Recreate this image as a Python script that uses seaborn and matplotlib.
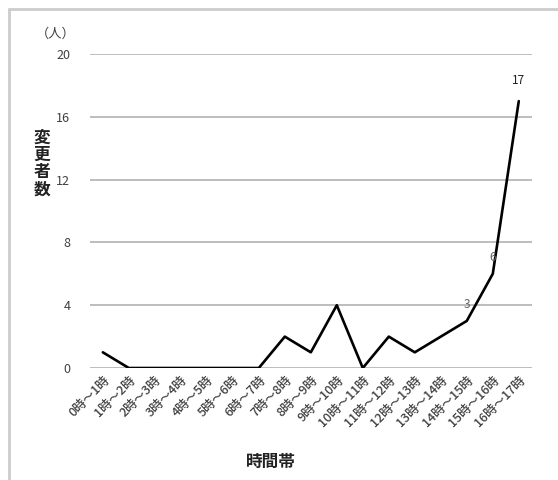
import numpy as np
import pandas as pd
import matplotlib.pyplot as plt
import seaborn as sns
from matplotlib.lines import Line2D

# Données
heures = [f"{h}時～{h + 1}時" for h in range(17)]
changements = [1, 0, 0, 0, 0, 0, 0, 2, 1, 4, 0, 2, 1, 2, 3, 6, 17]
etiquettes = {14: "3", 15: "6", 16: "17"}
yticks = [0, 4, 8, 12, 16, 20]

df = pd.DataFrame({"時間帯": heures, "変更者数": changements})

sns.set_style("white")
plt.rcParams['font.family'] = ['Noto Sans CJK JP', 'DejaVu Sans']

fig = plt.figure(figsize=(5.58, 4.8), dpi=100)
ax = fig.add_axes([0.161, 0.2333, 0.792, 0.6542])

sns.lineplot(data=df, x="時間帯", y="変更者数", sort=False, color="black",
             linewidth=1.9, ax=ax)

ax.set_xlim(-0.5, 16.5)
ax.set_ylim(0, 20)
ax.set_yticks(yticks)
ax.yaxis.grid(True, color="#bdbdbd", linewidth=1.4)
ax.set_axisbelow(True)
for s in ax.spines.values():
    s.set_visible(False)
ax.tick_params(axis="y", length=0, labelsize=9, labelcolor="#404040", pad=14)
ax.tick_params(axis="x", length=0, labelsize=9, labelcolor="#404040", pad=4)
ax.set_xticks(range(len(heures)))
ax.set_xticklabels(heures, rotation=45, ha="right", rotation_mode="anchor",
                   fontweight="medium")
ax.set_xlabel("")
ax.set_ylabel("")

# Étiquettes des valeurs
for i, t in etiquettes.items():
    if i == 16:
        ax.annotate(t, (i, changements[i]), xytext=(0, 10), textcoords="offset points",
                    ha="center", va="bottom", fontsize=8.5, color="#202020")
    else:
        ax.annotate(t, (i, changements[i]), xytext=(0, 7), textcoords="offset points",
                    ha="center", va="bottom", fontsize=8.5, color="#606060")

# Titres des axes
fig.text(0.075, 0.66, "変\n更\n者\n数", ha="center", va="center", fontsize=12,
         fontweight="bold", color="#222222", linespacing=0.95)
fig.text(0.1, 0.928, "（人）", ha="center", va="center", fontsize=9.5, color="#404040")
fig.text(0.485, 0.038, "時間帯", ha="center", va="center", fontsize=12,
         fontweight="bold", color="#222222")

# Cadre
fig.add_artist(Line2D([0.016, 0.016], [0.0, 0.981], color="#cccccc", linewidth=2,
                      transform=fig.transFigure))
fig.add_artist(Line2D([0.016, 1.0], [0.981, 0.981], color="#cccccc", linewidth=2,
                      transform=fig.transFigure))

fig.savefig("out.png", dpi=100)
